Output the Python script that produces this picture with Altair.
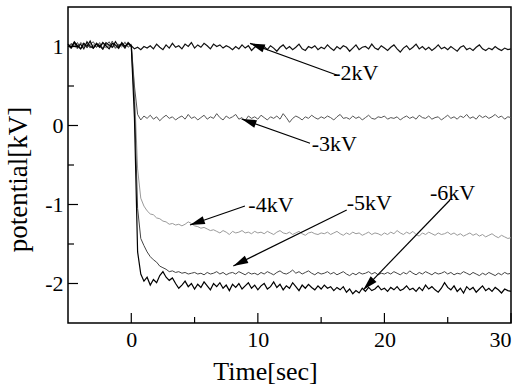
import math
import numpy as np
import pandas as pd
import altair as alt

# ---------------- data ----------------
# sample times (s): -5 .. 30 every 0.25 s
time_s = [round(-5 + 0.25 * i, 2) for i in range(141)]

v_2kV = [
    1.02, 0.98, 1.05, 0.99, 1.03, 0.97, 1.06, 1.00, 0.98, 1.04, 1.01, 0.97, 1.05, 1.02, 0.99, 1.06, 1.00, 1.03, 0.98, 1.05, 1.01,
    0.97, 0.99, 0.96, 1.00, 0.98, 1.01, 0.97, 1.03, 0.99, 0.96, 1.02, 0.98, 1.04, 0.99, 1.01, 0.97, 1.03, 1.00, 1.05, 0.98,
    1.02, 0.99, 1.04, 1.01, 0.97, 1.03, 1.00, 1.02, 0.98, 1.01, 0.99, 0.96, 1.00, 0.97, 1.02, 0.98, 1.01, 0.95, 0.99, 1.02,
    0.97, 1.00, 0.96, 1.01, 0.98, 0.94, 0.99, 1.02, 0.97, 1.00, 0.96, 0.99, 1.03, 0.97, 0.95, 1.00, 0.98, 1.01, 0.96, 0.99,
    0.97, 1.02, 0.98, 0.95, 1.00, 0.97, 1.01, 0.99, 0.94, 0.98, 1.02, 0.96, 0.99, 1.00, 0.97, 1.03, 0.98, 0.96, 1.01, 0.98,
    0.95, 0.99, 1.02, 0.97, 0.93, 0.98, 1.01, 0.96, 0.99, 1.03, 0.97, 1.00, 0.96, 0.99, 0.95, 0.98, 1.02, 0.97, 0.99, 0.96,
    1.00, 0.97, 0.94, 0.99, 1.01, 0.96, 0.98, 0.95, 0.99, 1.02, 0.97, 0.95, 0.98, 0.96, 1.00, 0.97, 0.95, 0.98, 0.96, 0.97,
]
v_3kV = [
    0.99, 1.04, 1.01, 0.97, 1.05, 1.02, 0.98, 1.03, 1.06, 0.99, 1.02, 0.96, 1.04, 1.00, 1.07, 0.98, 1.03, 1.01, 1.05, 0.99, 1.02,
    0.50, 0.14, 0.07, 0.12, 0.09, 0.13, 0.08, 0.11, 0.06, 0.10, 0.13, 0.09, 0.11, 0.07, 0.10, 0.12, 0.08, 0.14, 0.09, 0.11,
    0.07, 0.10, 0.13, 0.08, 0.11, 0.09, 0.15, 0.10, 0.07, 0.12, 0.09, 0.11, 0.14, 0.08, 0.10, 0.06, 0.12, 0.09, 0.11, 0.08,
    0.13, 0.10, 0.07, 0.11, 0.09, 0.12, 0.08, 0.15, 0.10, 0.04, 0.09, 0.12, 0.10, 0.07, 0.11, 0.09, 0.13, 0.10, 0.08, 0.11,
    0.09, 0.12, 0.10, 0.07, 0.11, 0.14, 0.09, 0.10, 0.08, 0.12, 0.09, 0.11, 0.07, 0.10, 0.13, 0.09, 0.08, 0.11, 0.10, 0.12,
    0.08, 0.10, 0.09, 0.11, 0.07, 0.10, 0.12, 0.09, 0.11, 0.08, 0.13, 0.10, 0.09, 0.12, 0.08, 0.10, 0.11, 0.07, 0.10, 0.13,
    0.09, 0.11, 0.08, 0.12, 0.10, 0.14, 0.09, 0.11, 0.08, 0.13, 0.10, 0.12, 0.09, 0.11, 0.14, 0.10, 0.12, 0.08, 0.11, 0.10,
]
v_4kV = [
    1.01, 0.97, 1.03, 1.00, 0.96, 1.04, 0.99, 1.02, 0.97, 1.05, 1.00, 1.03, 0.98, 1.01, 1.04, 0.97, 1.02, 0.99, 1.06, 1.00, 1.03,
    0.45, -0.55, -0.92, -1.02, -1.08, -1.12, -1.13, -1.17, -1.18, -1.21, -1.22, -1.25, -1.24, -1.26, -1.25, -1.27, -1.25, -1.22, -1.24, -1.27,
    -1.28, -1.30, -1.29, -1.31, -1.33, -1.32, -1.34, -1.36, -1.33, -1.35, -1.38, -1.34, -1.36, -1.35, -1.33, -1.36, -1.35, -1.37, -1.34, -1.36,
    -1.35, -1.37, -1.34, -1.36, -1.38, -1.35, -1.33, -1.36, -1.37, -1.35, -1.38, -1.36, -1.34, -1.37, -1.39, -1.36, -1.35, -1.37, -1.38, -1.36,
    -1.37, -1.35, -1.38, -1.36, -1.34, -1.37, -1.39, -1.36, -1.38, -1.35, -1.37, -1.36, -1.39, -1.37, -1.35, -1.38, -1.36, -1.37, -1.39, -1.36,
    -1.38, -1.35, -1.37, -1.33, -1.36, -1.38, -1.35, -1.37, -1.34, -1.38, -1.40, -1.36, -1.38, -1.35, -1.37, -1.39, -1.36, -1.38, -1.37, -1.35,
    -1.38, -1.36, -1.39, -1.37, -1.40, -1.38, -1.36, -1.39, -1.37, -1.40, -1.38, -1.41, -1.39, -1.37, -1.40, -1.42, -1.39, -1.41, -1.43, -1.42,
]
v_5kV = [
    0.98, 1.03, 1.00, 1.05, 0.97, 1.01, 1.04, 0.98, 1.02, 0.99, 1.05, 0.97, 1.02, 1.06, 0.99, 1.01, 0.97, 1.04, 1.00, 1.03, 0.99,
    0.30, -1.05, -1.43, -1.52, -1.60, -1.66, -1.70, -1.73, -1.78, -1.80, -1.82, -1.85, -1.84, -1.86, -1.85, -1.87, -1.86, -1.88, -1.87, -1.86,
    -1.88, -1.87, -1.89, -1.86, -1.88, -1.87, -1.85, -1.88, -1.86, -1.89, -1.87, -1.86, -1.88, -1.85, -1.87, -1.89, -1.86, -1.88, -1.87, -1.89,
    -1.86, -1.88, -1.85, -1.87, -1.89, -1.86, -1.84, -1.87, -1.88, -1.86, -1.83, -1.87, -1.85, -1.88, -1.86, -1.84, -1.87, -1.89, -1.86, -1.88,
    -1.87, -1.85, -1.88, -1.86, -1.89, -1.87, -1.85, -1.88, -1.90, -1.87, -1.89, -1.86, -1.88, -1.87, -1.85, -1.88, -1.86, -1.89, -1.87, -1.88,
    -1.86, -1.88, -1.85, -1.87, -1.89, -1.86, -1.88, -1.84, -1.87, -1.89, -1.86, -1.88, -1.85, -1.87, -1.89, -1.86, -1.88, -1.87, -1.85, -1.88,
    -1.86, -1.89, -1.87, -1.88, -1.85, -1.87, -1.89, -1.86, -1.88, -1.90, -1.87, -1.89, -1.86, -1.88, -1.90, -1.87, -1.89, -1.86, -1.88, -1.87,
]
v_6kV = [
    1.03, 0.99, 1.06, 1.01, 0.97, 1.04, 1.00, 1.07, 0.98, 1.03, 0.99, 1.05, 1.01, 0.97, 1.04, 1.02, 0.98, 1.05, 1.00, 1.04, 1.01,
    0.10, -1.60, -1.88, -1.97, -1.92, -2.02, -1.95, -1.99, -1.90, -1.85, -1.92, -1.96, -1.93, -2.00, -2.06, -2.02, -1.97, -2.04, -2.00, -2.07,
    -2.01, -2.05, -1.98, -2.03, -2.08, -2.00, -2.04, -1.99, -2.06, -2.02, -2.09, -2.01, -2.05, -2.00, -2.07, -2.03, -1.99, -2.06, -2.02, -2.08,
    -2.03, -2.00, -2.07, -2.04, -1.98, -2.05, -2.01, -2.08, -2.03, -2.06, -1.99, -2.04, -2.09, -2.02, -2.06, -2.01, -2.05, -2.08, -2.03, -2.07,
    -2.02, -2.06, -2.04, -2.09, -2.05, -2.08, -2.04, -2.11, -2.07, -2.13, -2.09, -2.12, -2.06, -2.10, -2.05, -2.09, -2.07, -2.03, -2.08, -2.06,
    -2.10, -2.05, -2.08, -2.04, -2.09, -2.07, -2.03, -2.08, -2.06, -2.10, -2.05, -2.09, -2.02, -2.07, -2.04, -2.08, -2.11, -2.06, -1.99, -2.05,
    -2.08, -2.03, -2.10, -2.06, -2.12, -2.04, -2.08, -2.05, -2.11, -2.07, -2.03, -2.09, -2.06, -2.10, -2.05, -2.08, -2.12, -2.07, -2.09, -2.10,
]

series_names = ["-4kV", "-3kV", "-5kV", "-2kV", "-6kV"]
series_values = [v_4kV, v_3kV, v_5kV, v_2kV, v_6kV]
series_colors = ["#9a9a9a", "#555555", "#444444", "#111111", "#000000"]
series_widths = [1.0, 1.0, 1.0, 1.2, 1.2]

x_major = [0, 10, 20, 30]
x_minor = [5, 15, 25]
y_major = [-2, -1, 0, 1]
y_minor = [-1.5, -0.5, 0.5]

# annotations: label text, label position, arrow tail and tip (data units)
ann_label = ["-2kV", "-3kV", "-4kV", "-5kV", "-6kV"]
ann_tx = [15.95, 14.25, 9.25, 17.02, 23.6]
ann_ty = [0.665, -0.24, -1.005, -0.98, -0.86]
arr_t0 = [16.23, 14.12, 8.98, 17.02, 25.18]
arr_v0 = [0.639, -0.225, -1.019, -1.07, -0.943]
arr_t1 = [9.38, 8.72, 4.64, 8.06, 18.33]
arr_v1 = [1.04, 0.082, -1.259, -1.778, -2.08]

# ---------------- chart ----------------
W, H = 443, 316
XD, YD = [-5, 30], [-2.5, 1.5]
FONT = "Liberation Serif"

xs = alt.Scale(domain=XD, nice=False, zero=False)
ys = alt.Scale(domain=YD, nice=False, zero=False)

x_axis = alt.Axis(
    values=x_major, title="Time[sec]", grid=False, domain=False, ticks=False, tickSize=0,
    labelFont=FONT, labelFontSize=22, labelColor="black", labelPadding=6,
    labelExpr="'' + datum.value",
    titleFont=FONT, titleFontSize=26, titleFontWeight="normal", titleColor="black",
    titleX=197, titleY=56, titleBaseline="alphabetic", titleAnchor="start", titleAlign="center")
y_axis = alt.Axis(
    values=y_major, title="potential[kV]", grid=False, domain=False, ticks=False, tickSize=0,
    labelFont=FONT, labelFontSize=22, labelColor="black", labelPadding=5,
    labelExpr="'' + datum.value",
    titleFont=FONT, titleFontSize=27, titleFontWeight="normal", titleColor="black",
    titleX=-42, titleY=172, titleBaseline="alphabetic", titleAnchor="start", titleAlign="center", titleAngle=270)


def X(f):
    return alt.X(f, scale=xs, axis=x_axis, title="Time[sec]")


def Y(f):
    return alt.Y(f, scale=ys, axis=y_axis, title="potential[kV]")


lines = []
for name, vals, col, sw in zip(series_names, series_values, series_colors, series_widths):
    df = pd.DataFrame({"t": time_s, "v": vals})
    lines.append(
        alt.Chart(df).mark_line(color=col, strokeWidth=sw).encode(x=X("t:Q"), y=Y("v:Q"))
    )

tick_x_major = alt.Chart(pd.DataFrame({"t": x_major})).mark_rule(color="black", strokeWidth=1.2).encode(
    x=X("t:Q"), y=alt.value(H), y2=alt.value(H - 10))
tick_x_minor = alt.Chart(pd.DataFrame({"t": x_minor})).mark_rule(color="black", strokeWidth=1.2).encode(
    x=X("t:Q"), y=alt.value(H), y2=alt.value(H - 6))
tick_y_major = alt.Chart(pd.DataFrame({"v": y_major})).mark_rule(color="black", strokeWidth=1.2).encode(
    y=Y("v:Q"), x=alt.value(0), x2=alt.value(10))
tick_y_minor = alt.Chart(pd.DataFrame({"v": y_minor})).mark_rule(color="black", strokeWidth=1.2).encode(
    y=Y("v:Q"), x=alt.value(0), x2=alt.value(6))


# arrow heads rotation from the screen direction of each arrow
def px(t):
    return (t - XD[0]) / (XD[1] - XD[0]) * W


def py(v):
    return (YD[1] - v) / (YD[1] - YD[0]) * H


angles = [math.degrees(math.atan2(py(b1) - py(b0), px(a1) - px(a0))) % 360
          for a0, b0, a1, b1 in zip(arr_t0, arr_v0, arr_t1, arr_v1)]

adf = pd.DataFrame({"label": ann_label, "tx": ann_tx, "ty": ann_ty,
                    "t0": arr_t0, "v0": arr_v0, "t1": arr_t1, "v1": arr_v1, "ang": angles})

arrow_lines = alt.Chart(adf).mark_rule(color="black", strokeWidth=1.2).encode(
    x=X("t0:Q"), y=Y("v0:Q"), x2="t1:Q", y2="v1:Q")
arrow_heads = alt.Chart(adf).mark_point(
    shape="M0,0L-2,-0.55L-2,0.55Z", filled=True, color="black", opacity=1, size=220, strokeWidth=0
).encode(x=X("t1:Q"), y=Y("v1:Q"), angle=alt.Angle("ang:Q", scale=None))
labels = alt.Chart(adf).mark_text(font=FONT, fontSize=22, align="left", baseline="middle", color="black").encode(
    x=X("tx:Q"), y=Y("ty:Q"), text="label:N")

chart = alt.layer(
    *lines, tick_x_major, tick_x_minor, tick_y_major, tick_y_minor,
    arrow_lines, arrow_heads, labels
).properties(
    width=W, height=H,
    background="white",
    autosize=alt.AutoSizeParams(type="none"),
    padding={"left": 68, "top": 7, "right": 14, "bottom": 66},
).configure_view(stroke="black", strokeWidth=1.5)

chart.save("out.html", embed_options={"renderer": "svg", "actions": False})
